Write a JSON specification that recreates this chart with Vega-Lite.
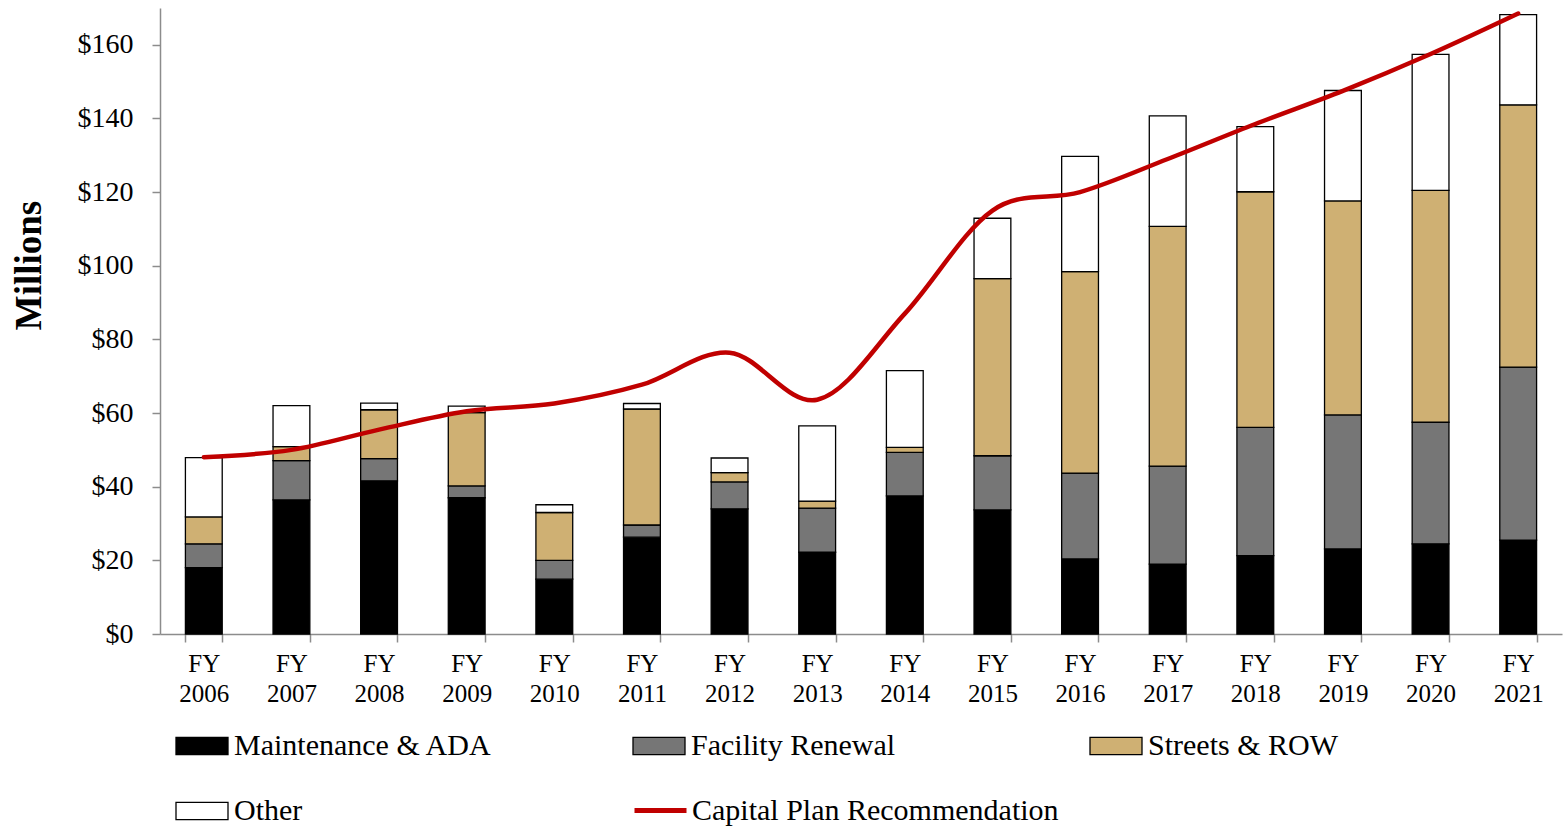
{
  "$schema": "https://vega.github.io/schema/vega-lite/v6.json",
  "width": 1402,
  "height": 626,
  "autosize": "none",
  "padding": {"left": 160, "top": 8, "right": 2, "bottom": 193},
  "background": "white",
  "config": {"view": {"stroke": null}, "font": "Liberation Serif"},
  "data": {
    "values": [
      {"year": "FY 2006", "Maintenance & ADA": 18.0, "Facility Renewal": 6.5, "Streets & ROW": 7.3, "Other": 16.1, "plan": 48.0},
      {"year": "FY 2007", "Maintenance & ADA": 36.4, "Facility Renewal": 10.7, "Streets & ROW": 3.8, "Other": 11.1, "plan": 50.0},
      {"year": "FY 2008", "Maintenance & ADA": 41.6, "Facility Renewal": 6.0, "Streets & ROW": 13.3, "Other": 1.8, "plan": 55.5},
      {"year": "FY 2009", "Maintenance & ADA": 37.0, "Facility Renewal": 3.2, "Streets & ROW": 19.9, "Other": 1.8, "plan": 60.5},
      {"year": "FY 2010", "Maintenance & ADA": 14.9, "Facility Renewal": 5.1, "Streets & ROW": 13.0, "Other": 2.1, "plan": 62.6},
      {"year": "FY 2011", "Maintenance & ADA": 26.3, "Facility Renewal": 3.3, "Streets & ROW": 31.5, "Other": 1.5, "plan": 67.7},
      {"year": "FY 2012", "Maintenance & ADA": 34.0, "Facility Renewal": 7.3, "Streets & ROW": 2.5, "Other": 4.0, "plan": 76.4},
      {"year": "FY 2013", "Maintenance & ADA": 22.2, "Facility Renewal": 12.0, "Streets & ROW": 1.9, "Other": 20.4, "plan": 63.6},
      {"year": "FY 2014", "Maintenance & ADA": 37.5, "Facility Renewal": 11.8, "Streets & ROW": 1.4, "Other": 20.8, "plan": 87.0},
      {"year": "FY 2015", "Maintenance & ADA": 33.7, "Facility Renewal": 14.7, "Streets & ROW": 48.1, "Other": 16.4, "plan": 115.0},
      {"year": "FY 2016", "Maintenance & ADA": 20.4, "Facility Renewal": 23.3, "Streets & ROW": 54.7, "Other": 31.3, "plan": 120.0},
      {"year": "FY 2017", "Maintenance & ADA": 19.0, "Facility Renewal": 26.6, "Streets & ROW": 65.1, "Other": 30.0, "plan": 129.0},
      {"year": "FY 2018", "Maintenance & ADA": 21.3, "Facility Renewal": 34.8, "Streets & ROW": 64.0, "Other": 17.7, "plan": 138.5},
      {"year": "FY 2019", "Maintenance & ADA": 23.1, "Facility Renewal": 36.4, "Streets & ROW": 58.1, "Other": 30.0, "plan": 147.5},
      {"year": "FY 2020", "Maintenance & ADA": 24.5, "Facility Renewal": 33.0, "Streets & ROW": 63.0, "Other": 36.9, "plan": 157.5},
      {"year": "FY 2021", "Maintenance & ADA": 25.5, "Facility Renewal": 47.0, "Streets & ROW": 71.2, "Other": 24.5, "plan": 168.5}
    ]
  },
  "layer": [
    {
      "transform": [
        {"fold": ["Maintenance & ADA", "Facility Renewal", "Streets & ROW", "Other"], "as": ["series", "value"]},
        {"calculate": "indexof(['Maintenance & ADA', 'Facility Renewal', 'Streets & ROW', 'Other'], datum.series)", "as": "ord"}
      ],
      "mark": {"type": "bar", "stroke": "black", "strokeWidth": 1.3},
      "encoding": {
        "x": {
          "field": "year", "type": "nominal", "sort": null,
          "scale": {"paddingInner": 0.58, "paddingOuter": 0.29},
          "axis": {
            "title": null, "labelAngle": 0, "labelExpr": "split(datum.label, ' ')",
            "labelFont": "Liberation Serif", "labelFontSize": 25, "labelLineHeight": 30, "labelColor": "black",
            "labelPadding": 9, "tickBand": "extent", "tickSize": 8, "tickColor": "#8c8c8c", "tickWidth": 1.5,
            "domainColor": "#8c8c8c", "domainWidth": 1.5, "grid": false
          }
        },
        "y": {
          "field": "value", "type": "quantitative", "stack": "zero",
          "scale": {"domain": [0, 170], "nice": false},
          "axis": {
            "title": "Millions", "titleFont": "Liberation Serif", "titleFontSize": 37, "titleFontWeight": "bold",
            "titleColor": "black", "titleX": -131, "titleY": 257, "titleAngle": -90, "titleBaseline": "middle", "titleAlign": "center",
            "values": [0, 20, 40, 60, 80, 100, 120, 140, 160],
            "labelExpr": "'$' + datum.value", "labelFont": "Liberation Serif", "labelFontSize": 28, "labelColor": "black",
            "labelPadding": 19, "tickSize": 8, "tickColor": "#8c8c8c", "tickWidth": 1.5,
            "domainColor": "#8c8c8c", "domainWidth": 1.5, "grid": false
          }
        },
        "fill": {
          "field": "series", "type": "nominal",
          "scale": {
            "domain": ["Maintenance & ADA", "Facility Renewal", "Streets & ROW", "Other"],
            "range": ["#000000", "#767676", "#CFB073", "#FFFFFF"]
          },
          "legend": {
            "title": null, "orient": "none", "legendX": 15, "legendY": 711, "direction": "horizontal", "columns": 3, "gridAlign": "all",
            "columnPadding": 137, "rowPadding": 23, "padding": 0,
            "symbolType": "M-1,-0.33L1,-0.33L1,0.33L-1,0.33Z", "symbolSize": 2704,
            "symbolStrokeColor": "black", "symbolStrokeWidth": 1.3, "symbolOpacity": 1,
            "labelFont": "Liberation Serif", "labelFontSize": 30, "labelColor": "black", "labelOffset": 5, "labelLimit": 800
          }
        },
        "order": {"field": "ord"}
      }
    },
    {
      "mark": {"type": "line", "interpolate": "cardinal", "strokeWidth": 4.5, "strokeCap": "round"},
      "encoding": {
        "x": {"field": "year", "type": "nominal", "sort": null},
        "y": {"field": "plan", "type": "quantitative"},
        "stroke": {
          "datum": "Capital Plan Recommendation",
          "scale": {"domain": ["Capital Plan Recommendation"], "range": ["#C00000"]},
          "legend": {
            "title": null, "orient": "none", "legendX": 472, "legendY": 774, "padding": 0,
            "symbolType": "stroke", "symbolSize": 2704, "symbolStrokeWidth": 5,
            "labelFont": "Liberation Serif", "labelFontSize": 30, "labelColor": "black", "labelOffset": 3, "labelLimit": 800
          }
        }
      }
    }
  ]
}
